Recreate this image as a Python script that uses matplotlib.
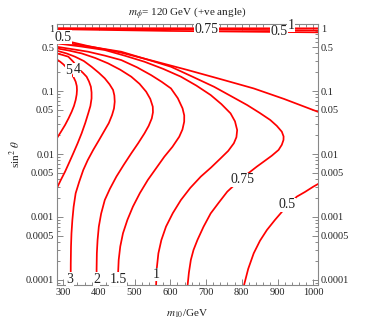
import numpy as np
import matplotlib
matplotlib.use("Agg")
import matplotlib.pyplot as plt
from matplotlib.ticker import FixedLocator, NullFormatter

plt.rcParams['font.family'] = ['Liberation Serif', 'DejaVu Serif']
plt.rcParams['mathtext.fontset'] = 'stix'

# ---- data: contour curves (m10 [GeV], sin^2 theta) ----
c5_x = [282.4, 292, 301.0, 312, 322.2, 330, 335.2, 338.3, 338.9, 338, 335.2, 330.5, 324.1, 315.5, 305.6, 294, 282.4]
c5_y = [0.318, 0.292, 0.265, 0.228, 0.191, 0.163, 0.141, 0.120, 0.104, 0.088, 0.072, 0.058, 0.047, 0.037, 0.0289, 0.0225, 0.0177]

c4_x = [282.4, 298, 314.8, 329, 342, 355, 365.8, 372.5, 377.8, 379.7, 379.7, 376.5, 370.4, 362, 351.9, 340.5, 328.7, 317, 305.6, 294, 282.4]
c4_y = [0.396, 0.375, 0.351, 0.29, 0.229, 0.196, 0.169, 0.142, 0.117, 0.095, 0.0765, 0.058, 0.0442, 0.031, 0.0213, 0.0147, 0.0103, 0.0073, 0.00525, 0.0039, 0.00285]

c3_x = [282.4, 310, 333.4, 358, 379.7, 400, 416.7, 430, 439.9, 443.5, 444.5, 442.5, 437.1, 428, 416.7, 401, 384.3, 369, 356.5, 345, 335.2, 329.5, 326.0, 323.5, 322.2, 321.5, 321.3]
c3_y = [0.437, 0.395, 0.351, 0.300, 0.243, 0.195, 0.159, 0.128, 0.104, 0.085, 0.0677, 0.053, 0.0416, 0.031, 0.0240, 0.0168, 0.0116, 0.0080, 0.00557, 0.0036, 0.00238, 0.00145, 0.000896, 0.00055, 0.000338, 0.00018, 0.00008]

c2_x = [282.4, 316, 351.9, 390, 426.0, 460, 490.8, 514, 532.5, 544, 551.0, 551.5, 548.2, 539.5, 527.8, 510, 490.8, 469.5, 449.1, 431, 416.7, 406.5, 400.0, 396.5, 394.5, 393.8, 393.6]
c2_y = [0.476, 0.44, 0.396, 0.335, 0.275, 0.218, 0.169, 0.13, 0.0976, 0.075, 0.0564, 0.046, 0.0368, 0.028, 0.0213, 0.0148, 0.01025, 0.0067, 0.00437, 0.0028, 0.00186, 0.00113, 0.000703, 0.00043, 0.000265, 0.00015, 0.00008]

c15_x = [282.4, 326, 370.4, 417, 463.0, 507, 546.3, 576, 601.9, 621, 634.3, 639, 638.9, 634, 625.0, 606, 583.4, 560, 537.1, 515, 495.4, 480, 467.6, 460, 455.6, 454, 453.7]
c15_y = [0.505, 0.462, 0.421, 0.365, 0.310, 0.238, 0.179, 0.14, 0.110, 0.077, 0.0531, 0.041, 0.0326, 0.0245, 0.0188, 0.013, 0.00907, 0.0059, 0.00387, 0.0024, 0.00146, 0.0009, 0.000551, 0.00034, 0.000208, 0.00013, 0.00008]

c1_x = [282.4, 350, 416.7, 472, 527.8, 580, 629.7, 673, 713.0, 743, 768.6, 781, 787.1, 785, 777.8, 762, 740.8, 714, 685.2, 656, 629.7, 607, 588.0, 575, 566.7, 562, 560.2]
c1_y = [0.571, 0.51, 0.448, 0.365, 0.292, 0.225, 0.169, 0.122, 0.0864, 0.062, 0.0442, 0.033, 0.0240, 0.0185, 0.0148, 0.0112, 0.00854, 0.0061, 0.00437, 0.0029, 0.00186, 0.00115, 0.000703, 0.00043, 0.000265, 0.00015, 0.00008]

c075_x = [282.4, 372, 463.0, 533, 601.9, 663, 722.3, 770, 814.9, 850, 879.7, 898, 912.1, 917, 916.7, 912, 902.9, 884, 861.2, 842, 824.1, 796.4, 759.3, 736, 713.0, 693, 676.0, 665, 657.5, 652, 648.2]
c075_y = [0.614, 0.51, 0.421, 0.32, 0.243, 0.168, 0.117, 0.083, 0.0600, 0.045, 0.0347, 0.028, 0.0226, 0.019, 0.0167, 0.014, 0.0116, 0.0094, 0.00756, 0.0063, 0.00525, 0.00396, 0.00252, 0.0017, 0.00114, 0.0007, 0.000432, 0.0003, 0.000208, 0.00013, 0.00008]

c05u_x = [282.4, 370.4, 463.0, 555, 648.2, 740, 833.4, 918, 1000.1, 1015.0]
c05u_y = [0.677, 0.518, 0.406, 0.298, 0.216, 0.155, 0.110, 0.075, 0.0499, 0.0464]

c05l_x = [805.6, 818, 833.4, 851, 870.4, 893, 916.7, 935, 953.8, 977, 1000.1, 1015.0]
c05l_y = [0.00008, 0.00015, 0.000265, 0.00042, 0.000622, 0.0009, 0.00129, 0.00165, 0.00210, 0.0025, 0.00303, 0.00338]

top1_x = [282.0, 1015.0]
top1_y = [0.995, 0.99]
top075_x = [282.0, 600.0, 1015.0]
top075_y = [0.975, 0.955, 0.92]
top05_x = [282.0, 600.0, 1015.0]
top05_y = [0.96, 0.90, 0.855]

# contour labels: (text, m10, sin^2)
label_text = ['5', '4', '3', '2', '1.5', '1', '0.75', '0.5', '0.5', '0.75', '0.5', '1']
label_x = [314.8, 340.0, 319.5, 393.6, 453.7, 560.2, 801.0, 301.0, 926.0, 701.0, 903.0, 937.0]
label_y = [0.21, 0.216, 0.000103, 0.000103, 0.000103, 0.000122, 0.0039, 0.711, 0.00155, 0.955, 0.875, 1.10]

title_text = r"$m_{\phi}$= 120 GeV (+ve angle)"
xlabel_text = r"$m_{10}$/GeV"
ylabel_text = r"sin$^2$ $\theta$"

x_major = [300, 400, 500, 600, 700, 800, 900, 1000]
y_major = [1, 0.5, 0.1, 0.05, 0.01, 0.005, 0.001, 0.0005, 0.0001]
y_major_labels = ['1', '0.5', '0.1', '0.05', '0.01', '0.005', '0.001', '0.0005', '0.0001']

# ---- figure ----
fig = plt.figure(figsize=(3.74, 3.24), dpi=100)
ax = fig.add_axes([0.1524, 0.1204, 0.6976, 0.8056])
ax.set_yscale('log')

curves = [(c5_x, c5_y), (c4_x, c4_y), (c3_x, c3_y), (c2_x, c2_y), (c15_x, c15_y),
          (c1_x, c1_y), (c075_x, c075_y), (c05u_x, c05u_y), (c05l_x, c05l_y),
          (top1_x, top1_y), (top075_x, top075_y), (top05_x, top05_y)]
for cx, cy in curves:
    ax.plot(cx, cy, color='#ff0000', lw=1.25, solid_capstyle='butt',
            solid_joinstyle='round', zorder=2)

for t, lx, ly in zip(label_text, label_x, label_y):
    ax.text(lx, ly, t, ha='center', va='center', fontsize=10, color='#222222',
            bbox=dict(facecolor='white', edgecolor='none', pad=0.3), zorder=3)

ax.set_xlim(283, 1013)
ax.set_ylim(10**-4.08, 10**0.065)

ax.xaxis.set_major_locator(FixedLocator(x_major))
ax.xaxis.set_minor_locator(FixedLocator([v for v in range(280, 1020, 20) if v % 100 != 0]))
ax.set_xticklabels([str(v) for v in x_major])

ax.yaxis.set_major_locator(FixedLocator(y_major))
ax.set_yticklabels(y_major_labels)
minors = []
for e in range(-5, 1):
    for k in range(1, 10):
        v = k * 10.0 ** e
        if not any(abs(v - m) / m < 1e-6 for m in y_major):
            minors.append(v)
ax.yaxis.set_minor_locator(FixedLocator(minors))
ax.yaxis.set_minor_formatter(NullFormatter())

for s in ax.spines.values():
    s.set_color('#888888')
    s.set_linewidth(0.8)
ax.tick_params(which='both', direction='in', top=True, right=True, labelright=True,
               color='#888888', labelsize=7.5, labelcolor='#222222', width=0.7)
ax.tick_params(which='major', length=4.5, pad=2)
ax.tick_params(which='minor', length=2.5)

ax.set_title(title_text, fontsize=8, color='#222222', pad=6)
ax.set_xlabel(xlabel_text, fontsize=8, color='#222222', labelpad=8)
ax.set_ylabel(ylabel_text, fontsize=8, color='#222222', labelpad=2)

fig.savefig('out.png', dpi=100)
